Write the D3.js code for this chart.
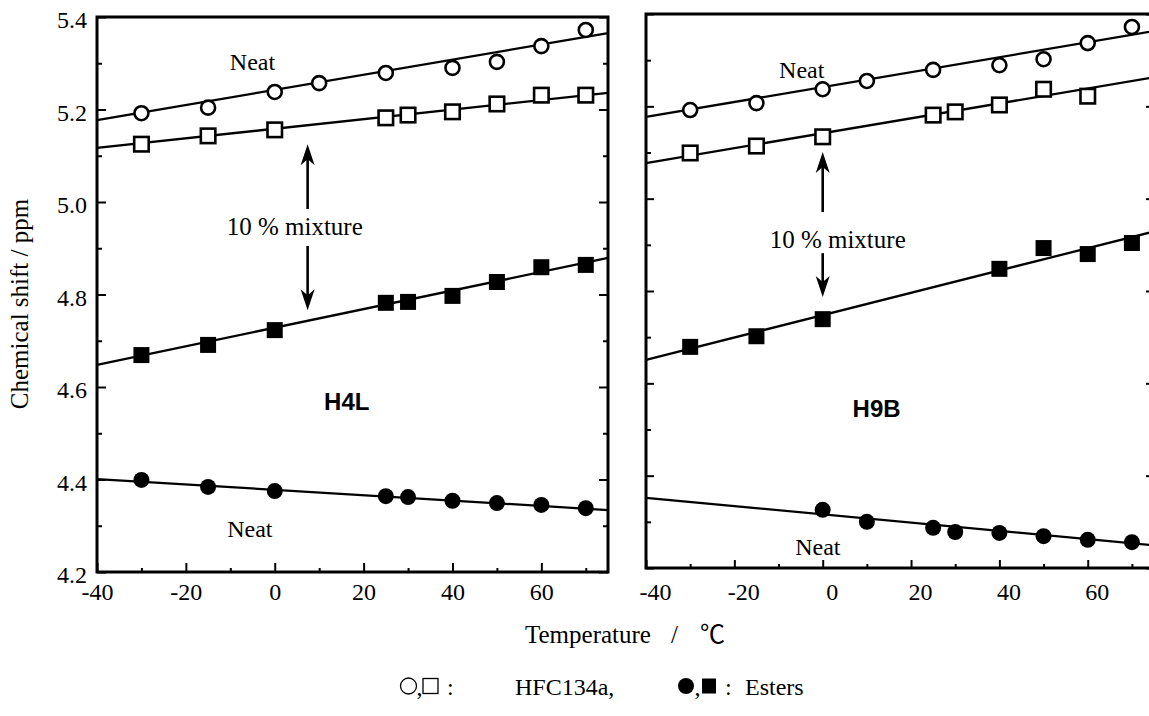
<!DOCTYPE html>
<html>
<head>
<meta charset="utf-8">
<script src="https://cdn.jsdelivr.net/npm/d3@7"></script>
<style>
  body { margin: 0; background: #fff; }
  #wrapper svg { display: block; }
</style>
</head>
<body>
<div id="wrapper"></div>
<script>
// values: temperature (C) vs chemical shift (ppm)
const xTicks = [-40, -20, 0, 20, 40, 60];
const yTicks = [4.2, 4.4, 4.6, 4.8, 5.0, 5.2, 5.4];
const fitTemps = [-40, 75];

// H4L
const h4lHfcNeatTemp = [-30, -15, 0, 10, 25, 40, 50, 60, 70];
const h4lHfcNeat = [5.192, 5.204, 5.238, 5.257, 5.279, 5.290, 5.303, 5.337, 5.372];
const h4lMixTemp = [-30, -15, 0, 25, 30, 40, 50, 60, 70];
const h4lHfcMix = [5.125, 5.143, 5.156, 5.182, 5.188, 5.195, 5.212, 5.231, 5.231];
const h4lEsterMix = [4.669, 4.691, 4.723, 4.782, 4.784, 4.797, 4.827, 4.859, 4.864];
const h4lEsterNeatTemp = [-30, -15, 0, 25, 30, 40, 50, 60, 70];
const h4lEsterNeat = [4.399, 4.384, 4.375, 4.364, 4.362, 4.354, 4.349, 4.345, 4.338];
const h4lFitHfcNeat = [5.177, 5.365];
const h4lFitHfcMix = [5.117, 5.236];
const h4lFitEsterMix = [4.648, 4.879];
const h4lFitEsterNeat = [4.401, 4.334];

// H9B
const h9bHfcNeatTemp = [-30, -15, 0, 10, 25, 40, 50, 60, 70];
const h9bHfcNeat = [5.192, 5.207, 5.237, 5.255, 5.279, 5.289, 5.302, 5.337, 5.372];
const h9bHfcMixTemp = [-30, -15, 0, 25, 30, 40, 50, 60];
const h9bHfcMix = [5.099, 5.114, 5.134, 5.181, 5.188, 5.203, 5.237, 5.222];
const h9bEsterMixTemp = [-30, -15, 0, 40, 50, 60, 70];
const h9bEsterMix = [4.679, 4.702, 4.739, 4.848, 4.893, 4.880, 4.904];
const h9bEsterNeatTemp = [0, 10, 25, 30, 40, 50, 60, 70];
const h9bEsterNeat = [4.326, 4.300, 4.287, 4.278, 4.276, 4.269, 4.261, 4.256];
const h9bFitHfcNeat = [5.177, 5.363];
const h9bFitHfcMix = [5.077, 5.263];
const h9bFitEsterMix = [4.651, 4.929];
const h9bFitEsterNeat = [4.352, 4.249];

const serif = "'Liberation Serif', 'Times New Roman', serif";
const sans = "'Liberation Sans', Arial, sans-serif";

const drawChart = () => {

    //1. dimensions
    const dimensions = { width: 1149, height: 716 };

    const panels = [
        {
            left: 97, right: 608, top: 17, bottom: 572,
            yLabels: true, labelPad: 11, labelDx: 0, tickLen: 9,
            series: [
                { temp: h4lHfcNeatTemp, vals: h4lHfcNeat, shape: "circle", filled: false },
                { temp: h4lMixTemp, vals: h4lHfcMix, shape: "square", filled: false },
                { temp: h4lMixTemp, vals: h4lEsterMix, shape: "square", filled: true },
                { temp: h4lEsterNeatTemp, vals: h4lEsterNeat, shape: "circle", filled: true }
            ],
            fits: [h4lFitHfcNeat, h4lFitHfcMix, h4lFitEsterMix, h4lFitEsterNeat],
            name: "H4L", nameAt: [16.2, 4.55],
            neatTop: [-5, 5.286], neatBottom: [-5.6, 4.276],
            mixAt: [4.5, 4.929],
            arrowUp: [7.4, 4.985, 5.125], arrowDown: [7.4, 4.905, 4.766]
        },
        {
            left: 646, right: 1154, top: 14, bottom: 568,
            yLabels: false, labelPad: 15, labelDx: 9, tickLen: 8,
            series: [
                { temp: h9bHfcNeatTemp, vals: h9bHfcNeat, shape: "circle", filled: false },
                { temp: h9bHfcMixTemp, vals: h9bHfcMix, shape: "square", filled: false },
                { temp: h9bEsterMixTemp, vals: h9bEsterMix, shape: "square", filled: true },
                { temp: h9bEsterNeatTemp, vals: h9bEsterNeat, shape: "circle", filled: true }
            ],
            fits: [h9bFitHfcNeat, h9bFitHfcMix, h9bFitEsterMix, h9bFitEsterNeat],
            name: "H9B", nameAt: [12.2, 4.527],
            neatTop: [-4.75, 5.261], neatBottom: [-1.1, 4.228],
            mixAt: [3.4, 4.893],
            arrowUp: [0, 4.971, 5.101], arrowDown: [0, 4.882, 4.787]
        }
    ];

    const svg = d3.select("#wrapper")
        .append("svg")
        .attr("width", dimensions.width)
        .attr("height", dimensions.height)
        .style("background", "#fff");

    //2. panels
    panels.forEach(p => {
        const xScale = d3.scaleLinear().domain([-40, 75]).range([p.left, p.right]);
        const yScale = d3.scaleLinear().domain([4.2, 5.4]).range([p.bottom, p.top]);
        const g = svg.append("g");

        // ticks (inward)
        const styleAxis = sel => {
            sel.select(".domain").remove();
            sel.selectAll(".tick line").attr("stroke", "#000").attr("stroke-width", 2);
            sel.selectAll("text").attr("fill", "#000")
                .style("font-family", serif).style("font-size", "24px");
        };

        g.append("g")
            .attr("transform", `translate(${p.left},0)`)
            .call(d3.axisLeft(yScale).tickValues(yTicks).tickSize(-p.tickLen).tickPadding(10)
                .tickFormat(p.yLabels ? d3.format(".1f") : ""))
            .call(styleAxis)
            .call(a => a.selectAll("text").attr("dy", "0.45em"));

        g.append("g")
            .attr("transform", `translate(${p.left},0)`)
            .call(d3.axisLeft(yScale).tickValues(d3.range(4.3, 5.4, 0.2)).tickSize(-5).tickFormat(""))
            .call(styleAxis);

        g.append("g")
            .attr("transform", `translate(${p.right},0)`)
            .call(d3.axisRight(yScale).tickValues(yTicks).tickSize(-p.tickLen).tickFormat(""))
            .call(styleAxis);

        g.append("g")
            .attr("transform", `translate(${p.right},0)`)
            .call(d3.axisRight(yScale).tickValues(d3.range(4.3, 5.4, 0.2)).tickSize(-5).tickFormat(""))
            .call(styleAxis);

        // plain hyphen for negatives, as in the figure
        g.append("g")
            .attr("transform", `translate(0,${p.bottom})`)
            .call(d3.axisBottom(xScale).tickValues(xTicks).tickSize(-p.tickLen).tickPadding(p.labelPad)
                .tickFormat(d => String(d)))
            .call(styleAxis)
            .call(a => a.selectAll("text").attr("dx", p.labelDx));

        g.append("g")
            .attr("transform", `translate(0,${p.bottom})`)
            .call(d3.axisBottom(xScale).tickValues([-30, -10, 10, 30, 50, 70]).tickSize(-4).tickFormat(""))
            .call(styleAxis);

        // fitted lines
        const line = d3.line().x(d => xScale(d[0])).y(d => yScale(d[1]));
        p.fits.forEach(f => {
            g.append("path")
                .datum(d3.zip(fitTemps, f))
                .attr("d", line)
                .attr("fill", "none")
                .attr("stroke", "#000")
                .attr("stroke-width", 2.3);
        });

        // markers
        p.series.forEach(s => {
            const pts = d3.zip(s.temp, s.vals);
            if (s.shape === "circle") {
                g.append("g").selectAll("circle")
                    .data(pts)
                    .join("circle")
                    .attr("cx", d => xScale(d[0]))
                    .attr("cy", d => yScale(d[1]))
                    .attr("r", s.filled ? 8 : 7)
                    .attr("fill", s.filled ? "#000" : "#fff")
                    .attr("stroke", "#000")
                    .attr("stroke-width", s.filled ? 0 : 2.6);
            } else {
                const side = s.filled ? 16 : 14.5;
                g.append("g").selectAll("rect")
                    .data(pts)
                    .join("rect")
                    .attr("x", d => xScale(d[0]) - side / 2)
                    .attr("y", d => yScale(d[1]) - side / 2)
                    .attr("width", side)
                    .attr("height", side)
                    .attr("fill", s.filled ? "#000" : "#fff")
                    .attr("stroke", "#000")
                    .attr("stroke-width", s.filled ? 0 : 2.6);
            }
        });

        // frame
        g.append("rect")
            .attr("x", p.left).attr("y", p.top)
            .attr("width", p.right - p.left).attr("height", p.bottom - p.top)
            .attr("fill", "none").attr("stroke", "#000").attr("stroke-width", 3);

        // labels inside
        const note = (at, txt, font, weight, size) => g.append("text")
            .attr("x", xScale(at[0])).attr("y", yScale(at[1]))
            .attr("text-anchor", "middle")
            .style("font-family", font).style("font-weight", weight).style("font-size", size)
            .text(txt);

        note(p.neatTop, "Neat", serif, "normal", "24px");
        note(p.neatBottom, "Neat", serif, "normal", "24px");
        note(p.mixAt, "10 % mixture", serif, "normal", "25px");
        note(p.nameAt, p.name, sans, "bold", "24px");

        // arrows: [temp, tail, tip]
        const arrow = a => {
            const ax = xScale(a[0]);
            const tail = yScale(a[1]);
            const tip = yScale(a[2]);
            const dir = tip < tail ? 1 : -1; // 1 = pointing up
            g.append("line")
                .attr("x1", ax).attr("x2", ax)
                .attr("y1", tail).attr("y2", tip + dir * 12)
                .attr("stroke", "#000").attr("stroke-width", 2.6);
            g.append("path")
                .attr("d", `M${ax},${tip} L${ax - 7},${tip + dir * 21} L${ax},${tip + dir * 15} L${ax + 7},${tip + dir * 21} Z`)
                .attr("fill", "#000");
        };
        arrow(p.arrowUp);
        arrow(p.arrowDown);
    });

    //3. axis titles
    svg.append("text")
        .attr("transform", "translate(28,304) rotate(-90)")
        .attr("text-anchor", "middle")
        .style("font-family", serif).style("font-size", "25px")
        .text("Chemical shift / ppm");

    const titleY = 643;
    const titleText = (x, txt, font, size) => svg.append("text")
        .attr("x", x).attr("y", titleY)
        .style("font-family", font).style("font-size", size)
        .text(txt);
    titleText(525, "Temperature", serif, "25px");
    titleText(671, "/", serif, "25px");
    titleText(700, "℃", "'Noto Sans CJK JP', 'DejaVu Sans', sans-serif", "25px");

    //4. legend
    const legY = 686;
    const leg = svg.append("g");
    leg.append("circle").attr("cx", 408.5).attr("cy", legY).attr("r", 8)
        .attr("fill", "#fff").attr("stroke", "#000").attr("stroke-width", 1.3);
    leg.append("rect").attr("x", 423).attr("y", legY - 7.5).attr("width", 15).attr("height", 15)
        .attr("fill", "#fff").attr("stroke", "#000").attr("stroke-width", 1.3);
    leg.append("circle").attr("cx", 686).attr("cy", legY).attr("r", 8).attr("fill", "#000");
    leg.append("rect").attr("x", 702).attr("y", legY - 7.5).attr("width", 14).attr("height", 15).attr("fill", "#000");

    const legText = (x, txt) => leg.append("text")
        .attr("x", x).attr("y", legY + 9)
        .style("font-family", serif).style("font-size", "24px")
        .text(txt);
    legText(416.5, ",");
    legText(447, ":");
    legText(515, "HFC134a,");
    legText(694.5, ",");
    legText(725, ":");
    legText(745, "Esters");
};

drawChart();
</script>
</body>
</html>
